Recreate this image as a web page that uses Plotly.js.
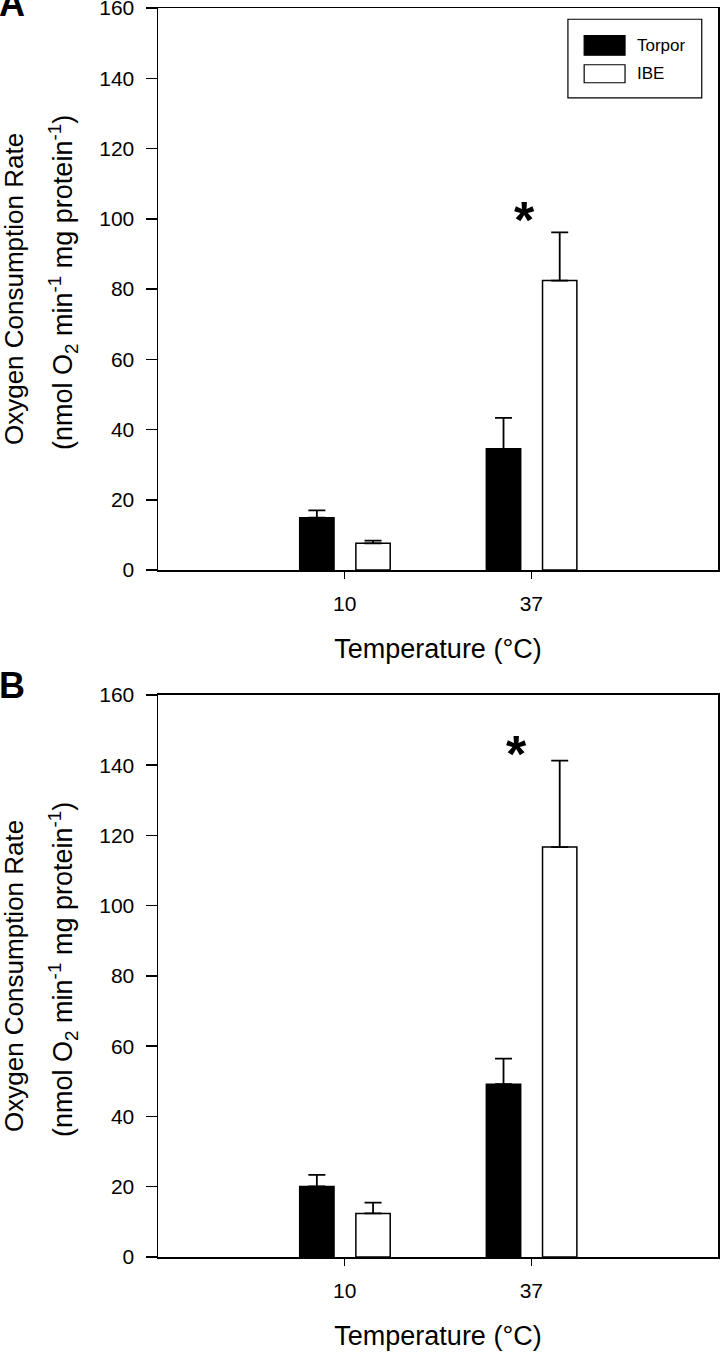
<!DOCTYPE html>
<html>
<head>
<meta charset="utf-8">
<script src="https://cdn.plot.ly/plotly-3.0.1.min.js"></script>
<style>
  html, body { margin: 0; padding: 0; background: #ffffff; }
  #chart { width: 720px; height: 1352px; }
</style>
</head>
<body>
<div id="chart"></div>
<script>
// ---- data ----
const categories = ['10', '37'];
const seriesNames = ['Torpor', 'IBE'];
const yTickVals = [0, 20, 40, 60, 80, 100, 120, 140, 160];

// Panel A
const torporA = [14.9, 34.5];
const torporAErr = [2.1, 8.8];
const ibeA = [7.6, 82.4];
const ibeAErr = [0.8, 13.7];
const sigAYs = [102.5];

// Panel B
const torporB = [20.1, 49.2];
const torporBErr = [3.3, 7.3];
const ibeB = [12.4, 116.7];
const ibeBErr = [3.1, 24.6];
const sigBYs = [146];

const sigCategories = ['37'];
const panelLabels = ['A', 'B'];
const xTitle = 'Temperature (°C)';
const yTitle1 = 'Oxygen Consumption Rate';
const yTitle2 = '(nmol O<sub>2</sub> min<sup>-1</sup> mg protein<sup>-1</sup>)';

// ---- styling ----
const FONT = 'Liberation Sans, Arial, Helvetica, sans-serif';
const zeros = a => a.map(() => 0);

function barTrace(name, vals, errs, xa, ya, fill, offset) {
  return {
    type: 'bar', name: name, x: categories, y: vals, xaxis: xa, yaxis: ya,
    width: 0.184, offset: offset,
    marker: { color: fill, line: { color: '#000000', width: 1.5 } },
    error_y: { type: 'data', symmetric: false, array: errs, arrayminus: zeros(errs),
               color: '#000000', thickness: 1.8, width: 8.5 },
    showlegend: false, hoverinfo: 'x+y'
  };
}

const traces = [
  barTrace(seriesNames[0], torporA, torporAErr, 'x', 'y', '#000000', -0.241),
  barTrace(seriesNames[1], ibeA, ibeAErr, 'x', 'y', '#ffffff', 0.06),
  barTrace(seriesNames[0], torporB, torporBErr, 'x2', 'y2', '#000000', -0.241),
  barTrace(seriesNames[1], ibeB, ibeBErr, 'x2', 'y2', '#ffffff', 0.06)
];

function xAxis(anchor) {
  return {
    anchor: anchor, domain: [0, 1], type: 'category', range: [-1, 2],
    showline: true, linecolor: '#000000', linewidth: 1.5, mirror: true,
    ticks: 'outside', ticklen: 7, tickwidth: 1.5, tickcolor: '#000000',
    showgrid: false, zeroline: false, ticklabelstandoff: 7,
    tickfont: { family: FONT, size: 21, color: '#000000' },
    title: { text: xTitle, font: { family: FONT, size: 27, color: '#000000' }, standoff: 25 },
    fixedrange: true
  };
}
function yAxis(anchor, domain) {
  return {
    anchor: anchor, domain: domain, range: [0, 160], tickvals: yTickVals,
    showline: true, linecolor: '#000000', linewidth: 1.5, mirror: true,
    ticks: 'outside', ticklen: 11, tickwidth: 1.5, tickcolor: '#000000',
    showgrid: false, zeroline: false, ticklabelstandoff: 7,
    ticklabeloverflow: 'allow',
    tickfont: { family: FONT, size: 21, color: '#000000' },
    fixedrange: true
  };
}

const annotations = [];
const shapes = [];
const panels = [
  { xa: 'x', ya: 'y', sig: sigAYs },
  { xa: 'x2', ya: 'y2', sig: sigBYs }
];
const starShift = [-7, -15];
const letterShift = [5, 9];

panels.forEach((p, i) => {
  const xd = p.xa + ' domain', yd = p.ya + ' domain';
  // panel letter
  annotations.push({ xref: xd, yref: yd, x: 0, y: 1.0, xanchor: 'left', yanchor: 'middle',
    xshift: -161, yshift: letterShift[i],
    text: '<b>' + panelLabels[i] + '</b>', showarrow: false,
    font: { family: FONT, size: 36, color: '#000000' } });
  // y titles
  annotations.push({ xref: 'paper', yref: yd, x: 0, y: 0.5, xanchor: 'center', yanchor: 'middle',
    xshift: -144, textangle: -90, text: yTitle1, showarrow: false,
    font: { family: FONT, size: 26, color: '#000000' } });
  annotations.push({ xref: 'paper', yref: yd, x: 0, y: 0.5, xanchor: 'center', yanchor: 'middle',
    xshift: -95, yshift: 6, textangle: -90, text: yTitle2, showarrow: false,
    font: { family: FONT, size: 27, color: '#000000' } });
  // significance stars (x given as the category's index on the category axis)
  sigCategories.forEach((c, k) => {
    annotations.push({ xref: p.xa, yref: p.ya, x: categories.indexOf(c), y: p.sig[k],
      xshift: starShift[i], yshift: -10,
      text: '<b>*</b>', showarrow: false, yanchor: 'middle', xanchor: 'center',
      font: { family: FONT, size: 52, color: '#000000' } });
  });
});

// legend (panel A only), drawn in axis-domain coordinates
const legFills = ['#000000', '#ffffff'];
shapes.push({ type: 'rect', xref: 'x domain', yref: 'y domain', x0: 0.732, x1: 0.971, y0: 0.840, y1: 0.980,
  line: { color: '#000000', width: 1.2 }, fillcolor: '#ffffff', layer: 'above' });
const legRows = [[0.916, 0.951], [0.867, 0.899]];
seriesNames.forEach((nm, k) => {
  shapes.push({ type: 'rect', xref: 'x domain', yref: 'y domain', x0: 0.761, x1: 0.834,
    y0: legRows[k][0], y1: legRows[k][1],
    line: { color: '#000000', width: 1.2 }, fillcolor: legFills[k], layer: 'above' });
  annotations.push({ xref: 'x domain', yref: 'y domain', x: 0.852, y: (legRows[k][0] + legRows[k][1]) / 2,
    xanchor: 'left', yanchor: 'middle', text: nm, showarrow: false,
    font: { family: FONT, size: 17, color: '#000000' } });
});

const layout = {
  width: 720, height: 1352,
  margin: { l: 158, r: 2, t: 8, b: 95 },
  paper_bgcolor: '#ffffff', plot_bgcolor: '#ffffff',
  font: { family: FONT, color: '#000000' },
  showlegend: false,
  xaxis: xAxis('y'),
  yaxis: yAxis('x', [0.55, 1.0]),
  xaxis2: xAxis('y2'),
  yaxis2: yAxis('x2', [0, 0.45]),
  annotations: annotations,
  shapes: shapes
};

Plotly.newPlot('chart', traces, layout, { displayModeBar: false, staticPlot: true });
</script>
</body>
</html>
